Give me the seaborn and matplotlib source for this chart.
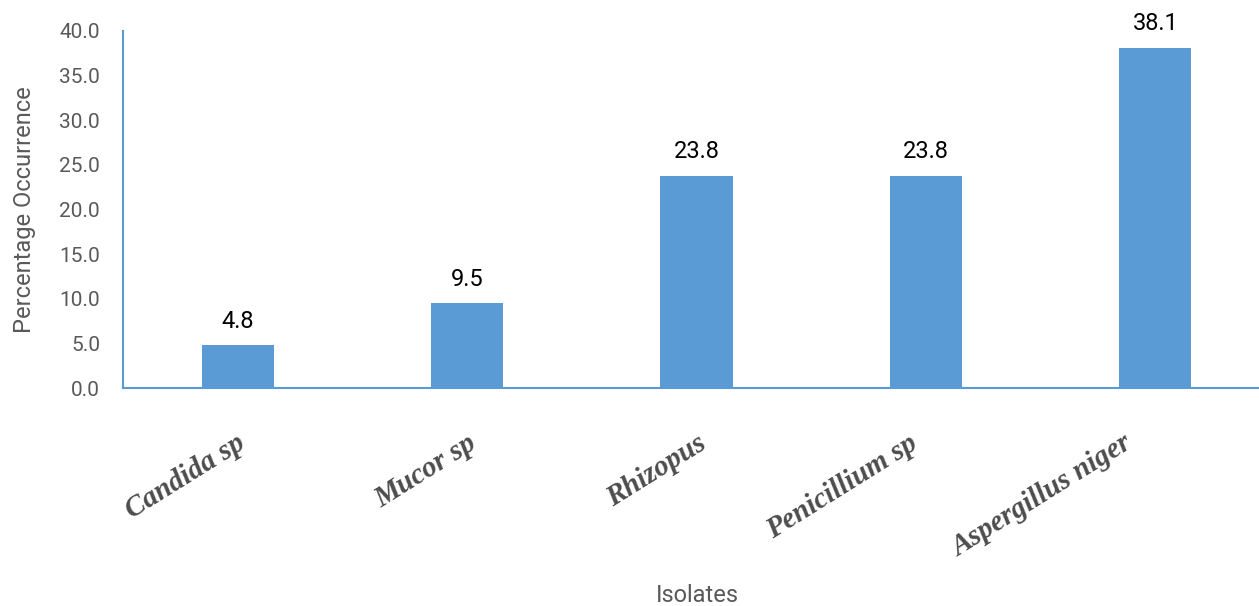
import matplotlib
matplotlib.use("Agg")
import matplotlib.pyplot as plt
import matplotlib.transforms as mtransforms
from matplotlib.font_manager import FontProperties
import seaborn as sns
import pandas as pd

categories = ["Candida sp", "Mucor sp", "Rhizopus", "Penicillium sp", "Aspergillus niger"]
values = [4.8, 9.5, 23.8, 23.8, 38.1]
yticks = [0, 5, 10, 15, 20, 25, 30, 35, 40]

sns.set_theme(style="white")
plt.rcParams['font.family'] = ['Roboto', 'DejaVu Sans']

W, H = 1259, 606
fig = plt.figure(figsize=(W/100, H/100), dpi=100)
left, right, top, bottom = 123, 1270, 31, 388
ax = fig.add_axes([left/W, 1-bottom/H, (right-left)/W, (bottom-top)/H])

df = pd.DataFrame({"Isolate": categories, "Value": values})
blue = "#5B9BD5"
sns.barplot(data=df, x="Isolate", y="Value", color=blue, width=0.314, ax=ax,
            saturation=1, edgecolor="none")

ax.set_ylim(0, 40)
ax.set_xlim(-0.5, 4.5)
ax.set_yticks(yticks)
ax.set_yticklabels([f"{v:.1f}" for v in yticks], color="#595959", fontsize=15)
ax.tick_params(axis='y', length=0, pad=16.5)
ax.tick_params(axis='x', length=0, pad=30)
ax.set_xticks(range(len(categories)))
ax.set_xticklabels(categories, rotation=32, ha='right', rotation_mode='anchor',
                   color="#4d4d4d")
fp = FontProperties(family='Liberation Serif', weight='bold', style='italic', size=21)
for lbl in ax.get_xticklabels():
    lbl.set_fontproperties(fp)

for s in ['top', 'right']:
    ax.spines[s].set_visible(False)
for s in ['left', 'bottom']:
    ax.spines[s].set_color(blue)
    ax.spines[s].set_linewidth(1.5)

for i, v in enumerate(values):
    ax.annotate(f"{v:.1f}", (i, v), xytext=(0, 9), textcoords='offset points',
                ha='center', va='bottom', fontsize=17, color="black")

ax.set_ylabel("Percentage Occurrence", color="#595959", fontsize=17, labelpad=17)
ax.set_xlabel("")
fig.text(697/W, 1-595/H, "Isolates", ha='center', va='center', fontsize=17, color="#595959")

# longer labels sit a little further left, as in the source
fig.canvas.draw()
renderer = fig.canvas.get_renderer()
for lbl in ax.get_xticklabels():
    w = lbl.get_window_extent(renderer).width
    dx = -max(0.0, w - 125) * 0.5
    lbl.set_transform(lbl.get_transform() + mtransforms.Affine2D().translate(dx, 0))

fig.savefig("out.png", dpi=100)
